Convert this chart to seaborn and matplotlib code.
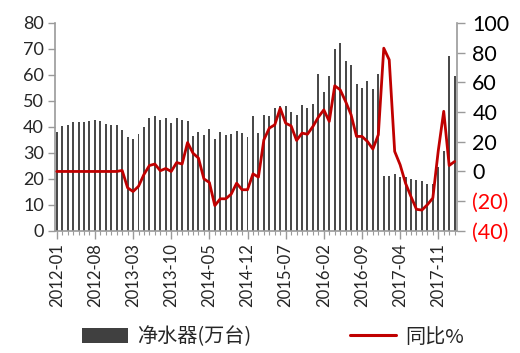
import numpy as np
import pandas as pd
import matplotlib
matplotlib.use("Agg")
import matplotlib.pyplot as plt
import seaborn as sns
from matplotlib.patches import Patch
from matplotlib.lines import Line2D

# Data
MONTHS = pd.date_range("2012-01", periods=74, freq="MS").strftime("%Y-%m").tolist()
UNITS = [
    38.2, 40.4, 40.9, 41.7, 41.7, 41.7, 42.2, 42.7, 42.4, 41.3, 40.8, 40.6,
    38.8, 36.3, 35.5, 37.1, 39.9, 43.6, 44.2, 42.7, 43.3, 41.4, 43.6, 42.7,
    42.4, 36.5, 38.1, 36.8, 39.1, 35.3, 38.2, 36.8, 37.3, 38.6, 37.6, 36.3,
    44.2, 37.6, 44.7, 44.2, 47.1, 48.1, 48.1, 45.8, 44.5, 48.6, 47.4, 48.7,
    60.4, 53.5, 59.6, 69.9, 72.4, 65.5, 63.8, 56.4, 54.9, 57.8, 54.6, 60.4,
    21.1, 21.1, 22.0, 20.7, 20.9, 19.9, 19.5, 19.0, 18.2, 18.0, 24.7, 30.9,
    67.3, 59.4,
]
YOY = [
    0, 0, 0, 0, 0, 0, 0, 0, 0, 0, 0, 0,
    0.7, -11, -13.5, -10, -2, 4, 5, 0.5, 2, 0, 6, 5,
    19.5, 12.3, 9, -5, -7.4, -23, -18.4, -18.4, -15.3, -7.9, -12.3, -12.3,
    -1.6, -3.8, 21.3, 29.2, 31.4, 42.6, 32.5, 30.7, 20.9, 25.8, 25.1, 30.3,
    36.6, 41.5, 33.7, 57.7, 55, 47.1, 38.2, 23.6, 23.6, 20.2, 15.1, 24.7,
    83, 75.2, 13.5, 4.5, -8, -17, -25.5, -26, -22.4, -17.9, 14, 40.5,
    4, 6.7,
]
LEFT_TICKS = list(range(0, 81, 10))
RIGHT_TICKS = [-40, -20, 0, 20, 40, 60, 80, 100]
RIGHT_LABELS = ["(40)", "(20)", "0", "20", "40", "60", "80", "100"]

BAR_COLOR = "#4a4a4a"
LINE_COLOR = "#C00000"
SPINE_COLOR = "#9a9a9a"

sns.set_style("white")
plt.rcParams["font.family"] = ["Lato", "Noto Sans CJK SC", "DejaVu Sans"]

df = pd.DataFrame({"month": MONTHS, "units": UNITS, "yoy": YOY})
df["pos"] = np.arange(len(df))

fig = plt.figure(figsize=(5.2, 3.53), dpi=100)
ax = fig.add_axes([0.106, 0.346, 0.773, 0.589])

sns.barplot(data=df, x="month", y="units", color=BAR_COLOR, width=0.36,
            saturation=1, linewidth=0, ax=ax)
for p in ax.patches:
    p.set_antialiased(False)
ax.set_xlim(-0.3, len(df) - 0.55)
ax.set_ylim(0, 80)
ax.set_yticks(LEFT_TICKS)
ax.tick_params(axis="y", labelsize=13, length=5, color=SPINE_COLOR, width=1,
               direction="out", pad=3, left=True)
ax.set_xticks(np.arange(0, len(df), 7))
ax.set_xticklabels(MONTHS[::7], rotation=90, fontsize=12)
ax.set_xticks(np.arange(len(df)), minor=True)
ax.tick_params(axis="x", which="major", length=6, color=SPINE_COLOR, width=1,
               direction="out", pad=3, bottom=True)
ax.tick_params(axis="x", which="minor", length=3, color=SPINE_COLOR, width=0.8,
               direction="out", bottom=True)
ax.set_xlabel("")
ax.set_ylabel("")
for side in ["top", "right"]:
    ax.spines[side].set_visible(False)
for side in ["left", "bottom"]:
    ax.spines[side].set_color(SPINE_COLOR)
    ax.spines[side].set_linewidth(1.2)

ax2 = ax.twinx()
sns.lineplot(data=df, x="pos", y="yoy", color=LINE_COLOR, linewidth=2.0, ax=ax2)
ax2.set_ylim(-40, 100)
ax2.set_yticks(RIGHT_TICKS)
ax2.set_yticklabels(RIGHT_LABELS, fontsize=15.5)
for lab, v in zip(ax2.get_yticklabels(), RIGHT_TICKS):
    lab.set_color("#FF0000" if v < 0 else "black")
ax2.tick_params(axis="y", length=6, color=SPINE_COLOR, width=1,
                direction="out", pad=5, right=True)
ax2.set_xlabel("")
ax2.set_ylabel("")
for side in ["top", "left", "bottom"]:
    ax2.spines[side].set_visible(False)
ax2.spines["right"].set_color(SPINE_COLOR)
ax2.spines["right"].set_linewidth(1.2)

# Legend along the bottom
handles = [
    Patch(facecolor="#404040", edgecolor="none"),
    Line2D([0], [0], color=LINE_COLOR, linewidth=2.2),
]
fig.legend(handles, ["净水器(万台)", "同比%"], loc="center left",
           bbox_to_anchor=(0.122, 0.045), ncol=2, frameon=False,
           handlelength=2.3, handleheight=0.75,
           columnspacing=4.9, handletextpad=0.45,
           prop={"family": ["Noto Sans CJK SC"], "size": 14.5})

fig.savefig("out.png", dpi=100)
